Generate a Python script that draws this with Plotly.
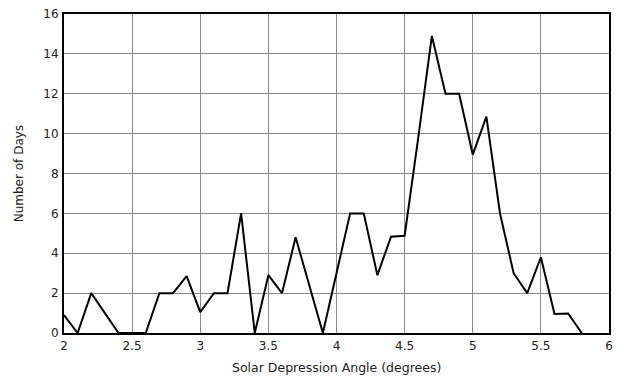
import plotly.graph_objects as go

angles = [2.0, 2.1, 2.2, 2.3, 2.4, 2.5, 2.6, 2.7, 2.8, 2.9, 3.0, 3.1, 3.2, 3.3, 3.4, 3.5, 3.6, 3.7, 3.8, 3.9,
          4.0, 4.1, 4.2, 4.3, 4.4, 4.5, 4.6, 4.7, 4.8, 4.9, 5.0, 5.1, 5.2, 5.3, 5.4, 5.5, 5.6, 5.7, 5.8]
days = [0.9, 0, 2, 1, 0, 0, 0, 2, 2, 2.85, 1.05, 2, 2, 6, 0, 2.9, 2, 4.8, 2.4, 0,
        3.0, 6, 6, 2.9, 4.83, 4.88, 9.8, 14.9, 12, 12, 8.95, 10.85, 6, 3, 2, 3.8, 0.95, 0.98, 0]

x_ticks = [2, 2.5, 3, 3.5, 4, 4.5, 5, 5.5, 6]
x_tick_text = ["2", "2.5", "3", "3.5", "4", "4.5", "5", "5.5", "6"]
y_ticks = [0, 2, 4, 6, 8, 10, 12, 14, 16]

fig = go.Figure()
fig.add_trace(go.Scatter(x=angles, y=days, mode="lines",
                         line=dict(color="black", width=2), showlegend=False))

font = dict(family="DejaVu Sans", size=12, color="#222")
xtitlefont = dict(family="DejaVu Sans", size=12.5, color="#222")
tickfont = dict(family="DejaVu Sans", size=12, color="#222")
fig.update_layout(
    width=626, height=384,
    margin=dict(l=56, r=25, t=6, b=59),
    paper_bgcolor="white", plot_bgcolor="white",
    font=font,
    xaxis=dict(range=[2, 6], tickvals=x_ticks, ticktext=x_tick_text, tickfont=tickfont,
               showgrid=True, gridcolor="#8a8a8a", gridwidth=1,
               showline=True, linecolor="black", linewidth=2, mirror=True,
               ticks="", zeroline=False, automargin=False, ticklabelstandoff=1,
               ticklabeloverflow="allow"),
    yaxis=dict(range=[0, 16], tickvals=y_ticks, tickfont=tickfont,
               showgrid=True, gridcolor="#8a8a8a", gridwidth=1,
               showline=True, linecolor="black", linewidth=2, mirror=True,
               ticks="", zeroline=False, ticklabelstandoff=1, automargin=False,
               ticklabeloverflow="allow"),
    annotations=[
        dict(text="Solar Depression Angle (degrees)", xref="paper", yref="paper",
             x=0.5, y=-0.107, xanchor="center", yanchor="middle", showarrow=False, font=xtitlefont),
        dict(text="Number of Days", xref="paper", yref="paper",
             x=-0.083, y=0.5, xanchor="center", yanchor="middle", showarrow=False,
             textangle=-90, font=font),
    ],
)

fig.write_html("out.html")
